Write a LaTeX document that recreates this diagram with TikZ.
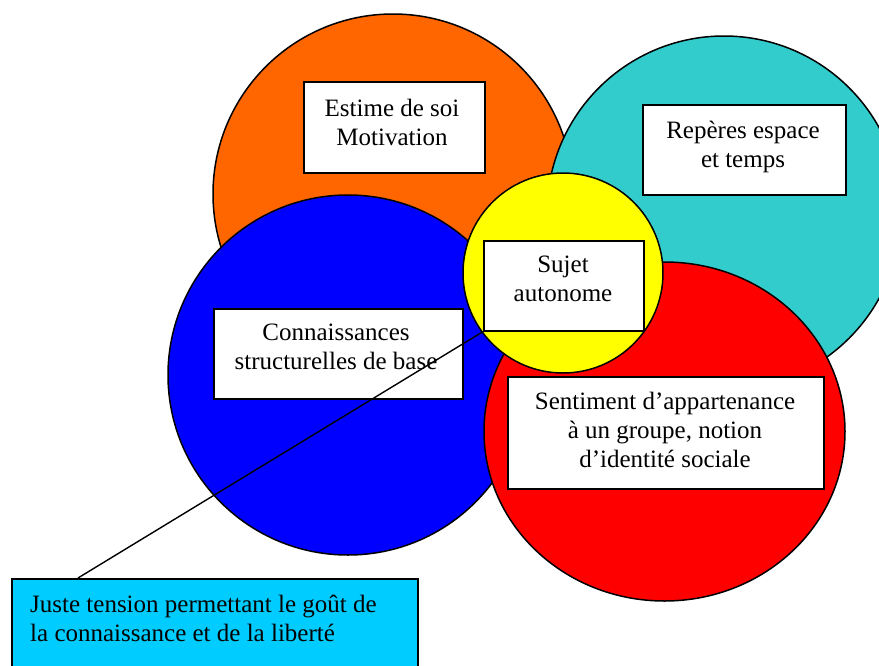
\documentclass[tikz,border=0pt]{standalone}
\usepackage{fontspec}
\setmainfont{Liberation Serif}
\usetikzlibrary{calc,shapes.geometric}
\definecolor{orangeC}{HTML}{FF6600}
\definecolor{tealC}{HTML}{33CCCC}
\definecolor{blueC}{HTML}{0000FF}
\definecolor{redC}{HTML}{FF0000}
\definecolor{yellowC}{HTML}{FFFF00}
\definecolor{cyanC}{HTML}{00CCFF}
\begin{document}
\begin{tikzpicture}[x=1pt,y=-1pt,
  disc/.style={circle, draw=black, line width=1.5pt, inner sep=0pt},
  oval/.style={ellipse, draw=black, line width=1.5pt, inner sep=0pt},
  tbox/.style={rectangle, draw=black, line width=1.6pt, fill=white, inner sep=0pt, anchor=north west},
  txt/.style={inner sep=0pt, align=center, anchor=north,
    font=\fontsize{25}{28.8}\selectfont, execute at begin node={\rule{0pt}{18pt}}},
  connector/.style={draw=black, line width=1.4pt}]
\path[use as bounding box] (0,0) rectangle (879,665);
\clip (0,0) rectangle (879,665);
% circles
\node[disc, fill=orangeC, minimum size=360pt] (cEstime) at (393,194) {};
\node[disc, fill=tealC, minimum size=354pt] (cReperes) at (724,213) {};
\node[disc, fill=blueC, minimum size=360pt] (cConn) at (348,375) {};
\node[oval, fill=redC, minimum width=361pt, minimum height=339pt] (cSent) at (664.5,431.5) {};
\node[disc, fill=yellowC, minimum size=200pt] (cSujet) at (563,273) {};
% boxes
\node[tbox, minimum width=181pt, minimum height=91pt] (estime) at (303,81) {};
\node[tbox, minimum width=203pt, minimum height=90pt] (reperes) at (642,104) {};
\node[tbox, minimum width=160pt, minimum height=90pt] (sujet) at (483,240) {};
\node[tbox, minimum width=249pt, minimum height=90pt] (conn) at (213,308) {};
\node[tbox, minimum width=316pt, minimum height=112pt] (sent) at (507,376) {};
\node[tbox, fill=cyanC, minimum width=406pt, minimum height=110pt] (juste) at (11,578) {};
% connector
\coordinate (tip) at ($(juste.north west)+(67,0)$);
\draw[connector] (sujet.south west) -- (tip);
% texts
\node[txt] (estimeT) at (392,99) {Estime de soi\\Motivation};
\node[txt] (reperesT) at (743,121) {Repères espace\\et temps};
\node[txt] (sujetT) at (563,256) {Sujet\\autonome};
\node[txt] (connT) at (336,324) {Connaissances\\structurelles de base};
\node[txt] (sentT) at (665,392) {Sentiment d’appartenance\\à un groupe, notion\\d’identité sociale};
\node[txt, align=left, anchor=north west] (justeT) at (30,595) {Juste tension permettant le goût de\\la connaissance et de la liberté};
\end{tikzpicture}
\end{document}
